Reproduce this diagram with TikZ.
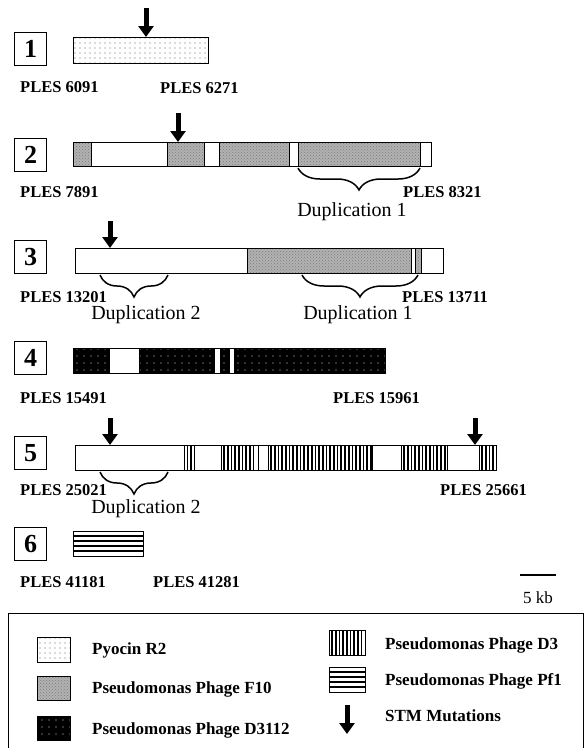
\documentclass[tikz,border=0pt]{standalone}
\usepackage{fontspec}
\setmainfont{Liberation Serif}
\usetikzlibrary{patterns,patterns.meta,arrows.meta,decorations.pathreplacing}
\newcommand\vstripeseg[5]{%
  \begin{scope}
    \clip (#1,#3) rectangle (#2,#4);
    \fill[white] (#1,#3) rectangle (#2,#4);
    \foreach \xx in {#5} \draw[line width=1.7pt] (\xx,#3) -- (\xx,#4);
  \end{scope}
  \draw[line width=1pt] (#1,#3) rectangle (#2,#4);}
\begin{document}
\begin{tikzpicture}[x=1pt,y=-1pt,
  numbox/.style={draw, line width=1.6pt, minimum width=32pt, minimum height=33pt, inner sep=0pt, font=\bfseries\fontsize{26}{26}\selectfont},
  ples/.style={anchor=west, inner sep=0pt, font=\bfseries\fontsize{16.5}{16.5}\selectfont},
  dup/.style={inner sep=0pt, font=\fontsize{20}{20}\selectfont},
  leg/.style={anchor=west, inner sep=0pt, font=\bfseries\fontsize{17}{17}\selectfont},
  seg/.style={draw, line width=1pt},
  wht/.style={seg, fill=white},
  pyo/.style={seg, pattern={Dots[radius=0.65pt, distance=5pt]}, pattern color=black!60},
  ften/.style={seg, preaction={fill=black!30}, pattern=crosshatch dots, pattern color=black!52},
  dthree/.style={seg, preaction={fill=black}, pattern={Dots[radius=0.65pt, distance=7pt]}, pattern color=white!85!black},
  stm/.style={line width=5pt, -{Triangle[width=15pt, length=11pt]}},
  dbrace/.style={decorate, decoration={brace, mirror, amplitude=22pt}, line width=1.5pt}
]
\clip (0,0) rectangle (584,748);
\fill[white] (0,0) rectangle (584,748);

% ---------- row 1
\node[numbox] (n1) at (30.5,49) {1};
\path[pyo] (73,37) rectangle (208,63);
\coordinate (a1t) at (146,8); \coordinate (a1h) at (146,37);
\draw[stm] (a1t) -- (a1h);
\node[ples] (l1a) at (20,87) {PLES 6091};
\node[ples] (l1b) at (160,88) {PLES 6271};

% ---------- row 2
\node[numbox] (n2) at (30.5,155) {2};
\path[ften] (73,142) rectangle (91,166);
\path[wht] (91,142) rectangle (167,166);
\path[ften] (167,142) rectangle (204,166);
\path[wht] (204,142) rectangle (219,166);
\path[ften] (219,142) rectangle (289,166);
\path[wht] (289,142) rectangle (298,166);
\path[ften] (298,142) rectangle (420,166);
\path[wht] (420,142) rectangle (431,166);
\coordinate (a2t) at (178,113); \coordinate (a2h) at (178,142);
\draw[stm] (a2t) -- (a2h);
\coordinate (b2l) at (298,168); \coordinate (b2r) at (420,168);
\draw[dbrace] (b2l) -- (b2r);
\node[ples] (l2a) at (20,192) {PLES 7891};
\node[ples] (l2b) at (403,192) {PLES 8321};
\node[dup] (d2) at (352,212) {Duplication 1};

% ---------- row 3
\node[numbox] (n3) at (30.5,257) {3};
\path[wht] (75,248) rectangle (247,273);
\path[ften] (247,248) rectangle (411,273);
\path[wht] (411,248) rectangle (415,273);
\path[ften] (415,248) rectangle (421,273);
\path[wht] (421,248) rectangle (443,273);
\coordinate (a3t) at (110,221); \coordinate (a3h) at (110,248);
\draw[stm] (a3t) -- (a3h);
\coordinate (b3l) at (100,275); \coordinate (b3r) at (168,275);
\draw[dbrace] (b3l) -- (b3r);
\coordinate (b3L) at (302,275); \coordinate (b3R) at (418,275);
\draw[dbrace] (b3L) -- (b3R);
\node[ples] (l3a) at (20,297) {PLES 13201};
\node[ples] (l3b) at (402,297) {PLES 13711};
\node[dup] (d3a) at (146,315) {Duplication 2};
\node[dup] (d3b) at (358,315) {Duplication 1};

% ---------- row 4
\node[numbox] (n4) at (30.5,358) {4};
\path[dthree] (73,348) rectangle (109,373);
\path[wht] (109,348) rectangle (139,373);
\path[dthree] (139,348) rectangle (214,373);
\path[wht] (214,348) rectangle (220,373);
\path[dthree] (220,348) rectangle (229,373);
\path[wht] (229,348) rectangle (234,373);
\path[dthree] (234,348) rectangle (385,373);
\node[ples] (l4a) at (20,398) {PLES 15491};
\node[ples] (l4b) at (333,398) {PLES 15961};

% ---------- row 5
\node[numbox] (n5) at (30.5,453) {5};
\path[wht] (75,445) rectangle (184,470);
\vstripeseg{184}{194}{445}{470}{187.5,190.9}
\path[wht] (194,445) rectangle (221,470);
\vstripeseg{221}{258}{445}{470}{224,227.7,...,257}
\path[wht] (258,445) rectangle (268,470);
\vstripeseg{268}{372}{445}{470}{271,274.7,...,371}
\path[wht] (372,445) rectangle (401,470);
\vstripeseg{401}{447}{445}{470}{404,407.7,...,446}
\path[wht] (447,445) rectangle (479,470);
\vstripeseg{479}{496}{445}{470}{482,485.7,489.4,493.1}
\coordinate (a5t) at (110,418); \coordinate (a5h) at (110,445);
\draw[stm] (a5t) -- (a5h);
\coordinate (a5T) at (475,418); \coordinate (a5H) at (475,445);
\draw[stm] (a5T) -- (a5H);
\coordinate (b5l) at (100,472); \coordinate (b5r) at (168,472);
\draw[dbrace] (b5l) -- (b5r);
\node[ples] (l5a) at (20,490) {PLES 25021};
\node[ples] (l5b) at (440,490) {PLES 25661};
\node[dup] (d5) at (146,509) {Duplication 2};

% ---------- row 6
\node[numbox] (n6) at (30.5,544) {6};
\draw[line width=1pt] (73,531) rectangle (143,556);
\foreach \yy in {536,541,546,551} \draw[line width=1.6pt] (73,\yy) -- (143,\yy);
\node[ples] (l6a) at (20,582) {PLES 41181};
\node[ples] (l6b) at (153,582) {PLES 41281};

% ---------- scale bar
\coordinate (s1) at (520,575); \coordinate (s2) at (556,575);
\draw[line width=2.5pt] (s1) -- (s2);
\node[inner sep=0pt, font=\fontsize{17}{17}\selectfont] (kb) at (538,598) {5 kb};

% ---------- legend
\draw[line width=1pt] (8,613) rectangle (583,780);
\path[pyo] (37,637) rectangle (70,662);
\node[leg] (t1) at (92,650) {Pyocin R2};
\path[ften] (37,676) rectangle (70,700);
\node[leg] (t2) at (92,689) {Pseudomonas Phage F10};
\path[dthree] (37,716) rectangle (70,740);
\node[leg] (t3) at (92,730) {Pseudomonas Phage D3112};
\vstripeseg{329}{365}{630}{655}{332,335.7,...,364}
\node[leg] (t4) at (385,645) {Pseudomonas Phage D3};
\draw[line width=1pt] (329,667) rectangle (365,692);
\foreach \yy in {672,677,682,687} \draw[line width=1.6pt] (329,\yy) -- (365,\yy);
\node[leg] (t5) at (385,681) {Pseudomonas Phage Pf1};
\coordinate (alt) at (347,705); \coordinate (alh) at (347,734);
\draw[stm] (alt) -- (alh);
\node[leg] (t6) at (385,716) {STM Mutations};
\end{tikzpicture}
\end{document}
